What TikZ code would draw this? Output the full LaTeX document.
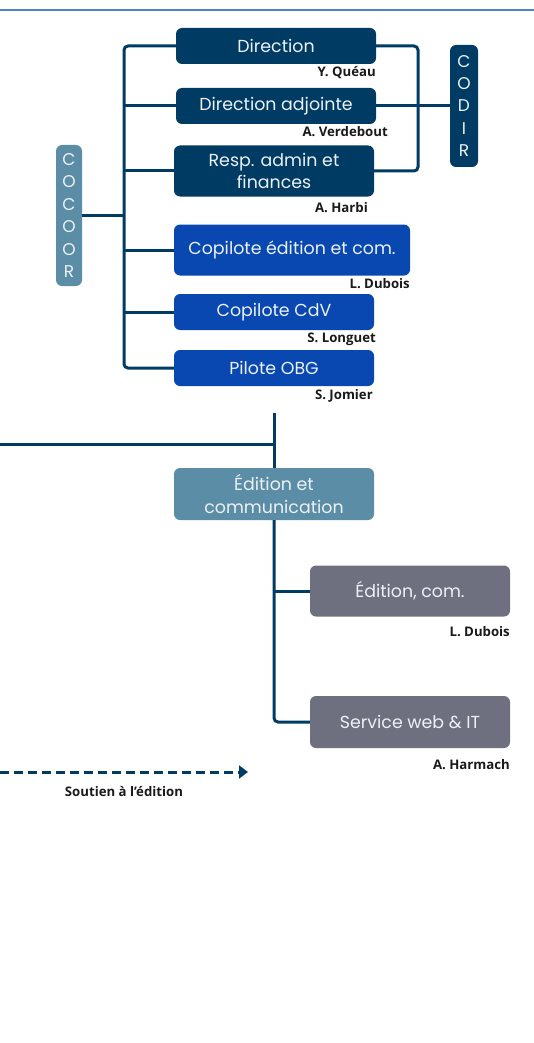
\documentclass[tikz,border=0pt]{standalone}
\usepackage{fontspec}
\setmainfont{Poppins}
\newfontfamily\namefont{Open Sans}
\usetikzlibrary{arrows.meta}
\definecolor{navy}{RGB}{0,59,100}
\definecolor{royal}{RGB}{8,72,176}
\definecolor{steel}{RGB}{91,142,166}
\definecolor{slate}{RGB}{110,112,128}
\definecolor{rule}{RGB}{74,134,196}
\definecolor{pale}{RGB}{236,241,245}

\tikzset{
  unit/.style={rounded corners=6pt, minimum width=200pt, minimum height=36pt, inner sep=0pt,
    text=pale, align=center, font=\fontsize{17.4}{22.5}\selectfont},
  stack/.style={rounded corners=6pt, minimum width=26pt, inner sep=0pt,
    text=pale, align=center, font=\fontsize{17}{22.4}\selectfont},
  who/.style={anchor=east, inner sep=0pt, text=black!90, font=\namefont\bfseries\fontsize{13.2}{15}\selectfont},
  link/.style={draw=navy, line width=3pt, rounded corners=4pt},
}

\begin{document}
\begin{tikzpicture}[x=1pt,y=-1pt]
\useasboundingbox (0,0) rectangle (534,1043);
\draw[rule, line width=2pt] (0,10) -- (534,10);

% direction team
\node[unit, fill=navy] (dir) at (276,46) {Direction};
\node[who] (dirname) at (376,73) {Y. Quéau};
\node[unit, fill=navy] (adj) at (276,106) {Direction adjointe};
\node[who] (adjname) at (388,132) {A. Verdebout};
\node[unit, fill=navy, minimum height=51pt] (raf) at (274,171) {Resp. admin et\\finances};
\node[who] (rafname) at (368,208) {A. Harbi};
\node[unit, fill=royal, minimum width=236pt, minimum height=51pt] (cped) at (292,250) {Copilote édition et com.};
\node[who] (cpedname) at (410,284) {L. Dubois};
\node[unit, fill=royal] (cdv) at (274,312) {Copilote CdV};
\node[who] (cdvname) at (376,339) {S. Longuet};
\node[unit, fill=royal] (obg) at (274,368) {Pilote OBG};
\node[who] (obgname) at (373,396) {S. Jomier};

\node[stack, fill=steel, minimum height=141pt] (cocoor) at (69,215.5) {C\\O\\C\\O\\O\\R};
\node[stack, fill=navy, minimum width=28pt, minimum height=122pt] (codir) at (464,106) {C\\O\\D\\I\\R};

\coordinate (busL) at (124,215.5);
\coordinate (busR) at (418,106);
\draw[link] (dir.west) -| (busL) |- (obg.west);
\draw[link] (adj.west) -- (adj.west -| busL);
\draw[link] (raf.west) -- (raf.west -| busL);
\draw[link] (cped.west) -- (cped.west -| busL);
\draw[link] (cdv.west) -- (cdv.west -| busL);
\draw[link] (cocoor.east) -- (busL);
\draw[link] (dir.east) -| (busR) |- (raf.east);
\draw[link] (adj.east) -- (codir.west);

% edition and communication
\node[unit, fill=steel, minimum height=52pt] (edc) at (274,494) {Édition et\\communication};
\node[unit, fill=slate, minimum height=51pt] (edcom) at (410,591) {Édition, com.};
\node[who] (edcomname) at (510,632) {L. Dubois};
\node[unit, fill=slate, minimum height=52pt] (web) at (410,722) {Service web \& IT};
\node[who] (webname) at (510,765) {A. Harmach};

\coordinate (top) at (274,413);
\coordinate (edge) at (0,444);
\draw[link] (top) -- (edc.north);
\draw[link] (edge) -- (edge -| top);
\draw[link] (edc.south) |- (web.west);
\draw[link] (edcom.west) -- (edcom.west -| edc.south);

% support arrow
\coordinate (sstart) at (0,772);
\coordinate (send) at (248,772);
\draw[draw=navy, line width=3pt, dash pattern=on 9pt off 5pt, -{Triangle[length=9pt,width=13pt]}] (sstart) -- (send);
\node[inner sep=0pt, text=black!90, font=\namefont\bfseries\fontsize{13.2}{15}\selectfont] (slabel) at (124,791) {Soutien à l’édition};
\end{tikzpicture}
\end{document}
